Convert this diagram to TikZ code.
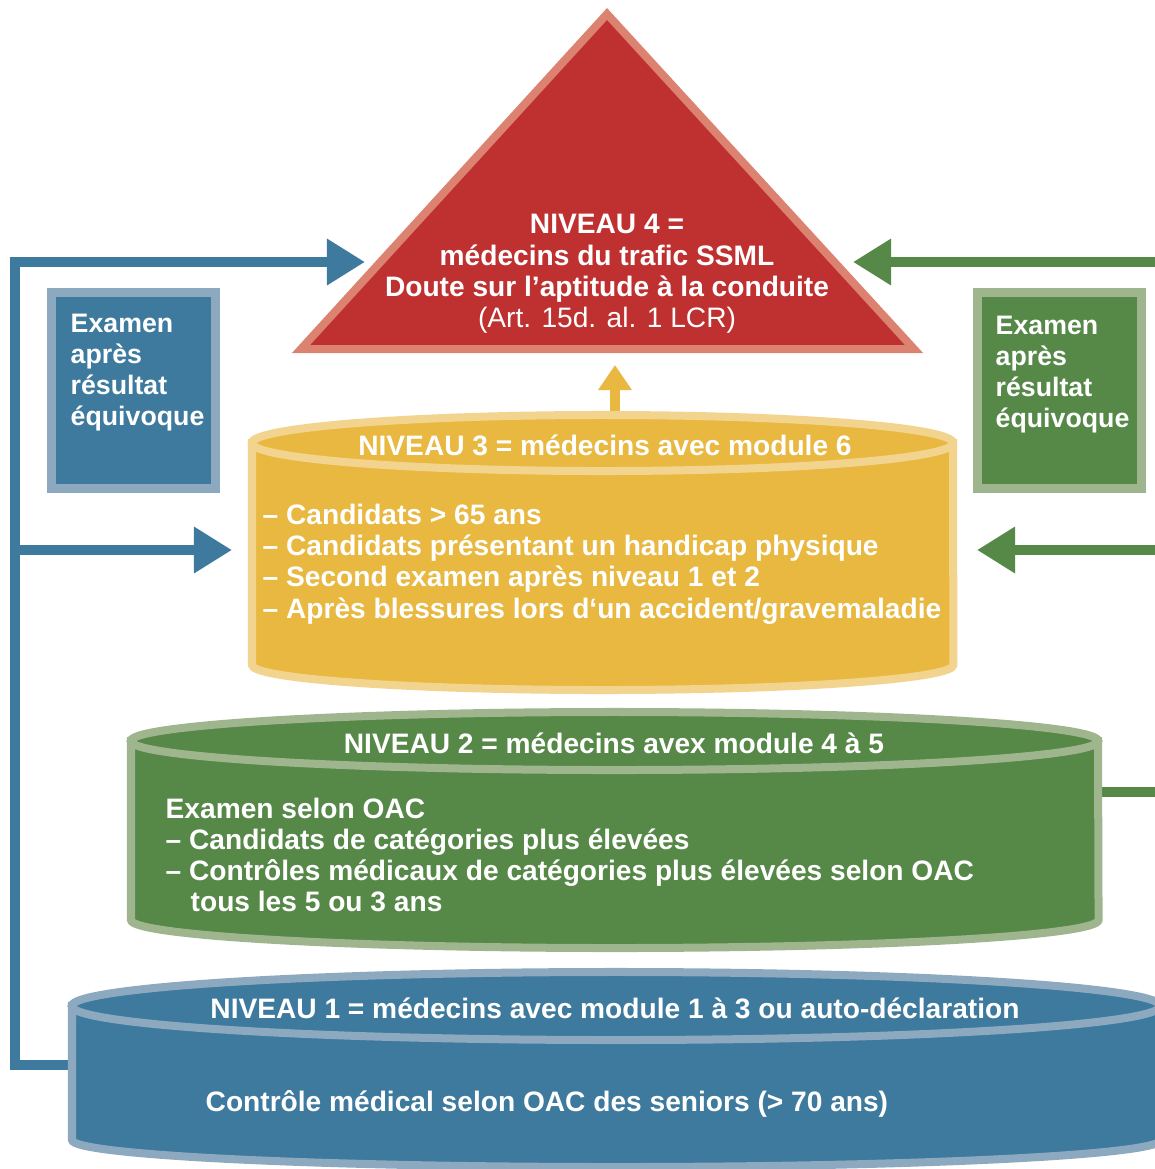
\documentclass[tikz,border=0pt]{standalone}
\usepackage{fontspec}
\setmainfont{Liberation Sans}
\usetikzlibrary{positioning,calc}
\usetikzlibrary{arrows.meta}
\usepackage{xcolor}
\definecolor{bleu}{RGB}{62,122,158}
\definecolor{bleuclair}{RGB}{140,169,192}
\definecolor{vert}{RGB}{86,136,72}
\definecolor{vertclair}{RGB}{159,181,142}
\definecolor{jaune}{RGB}{232,184,64}
\definecolor{jauneclair}{RGB}{243,212,142}
\definecolor{rouge}{RGB}{191,48,48}
\definecolor{saumon}{RGB}{219,130,112}
\tikzset{
    texte/.style={text=white, font=\bfseries\fontsize{8}{8.9}\selectfont, inner sep=0pt},
    examen/.style={texte, font=\bfseries\fontsize{7.6}{8.9}\selectfont, align=left, anchor=north west},
    fleche/.style={line width=0.1cm, -{Triangle[length=0.38cm,width=0.44cm]}},
}

\begin{document}
\begin{tikzpicture}[x=0.01cm, y=-0.01cm, line join=miter]
    \useasboundingbox (0,0) rectangle (1155,1169);
    \clip (0,0) rectangle (1155,1169);
    \fill[white] (0,0) rectangle (1155,1169);

    % fleches bleues
    \coordinate (depart1) at (72,1065);
    \coordinate (coinbas) at (15,1065);
    \coordinate (coinhaut) at (15,262);
    \coordinate (entree4g) at (365,262);
    \coordinate (embranchg) at (15,550);
    \coordinate (entree3g) at (232,550);
    \draw[fleche, color=bleu] (depart1) -- (coinbas) -- (coinhaut) -- (entree4g);
    \draw[fleche, color=bleu] (embranchg) -- (entree3g);

    % fleches vertes
    \coordinate (bord4d) at (1170,262);
    \coordinate (entree4d) at (853,262);
    \coordinate (bord3d) at (1170,550);
    \coordinate (entree3d) at (977,550);
    \coordinate (depart2) at (1098,792);
    \coordinate (bord2d) at (1170,792);
    \draw[fleche, color=vert] (bord4d) -- (entree4d);
    \draw[fleche, color=vert] (bord3d) -- (entree3d);
    \draw[line width=0.1cm, color=vert] (depart2) -- (bord2d);

    % niveau 4
    \coordinate (sommet) at (607,14);
    \coordinate (basg) at (301,349);
    \coordinate (basd) at (914,349);
    \draw[fill=rouge, draw=saumon, line width=0.08cm] (sommet) -- (basd) -- (basg) -- cycle;
    \node[texte, align=center] (n4) at (607,274) {NIVEAU 4 =\\ médecins du trafic SSML\\ Doute sur l’aptitude à la conduite\\ \mdseries (Art. 15d. al. 1 LCR)};

    % fleche jaune
    \coordinate (haut3) at (615,414);
    \coordinate (bas4) at (615,365);
    \draw[line width=0.1cm, color=jaune, -{Triangle[length=0.25cm,width=0.32cm]}] (haut3) -- (bas4);

    % niveau 3
    \def\xg{252} \def\xd{953} \def\yh{443} \def\yb{665}
    \draw[fill=jaune, draw=jauneclair, line width=0.08cm] (\xg,\yh) -- (\xg,\yb) arc (180:360:3.505cm and 0.25cm) -- (\xd,\yh) -- cycle;
    \draw[fill=jaune, draw=jauneclair, line width=0.08cm] ({(\xg+\xd)/2},\yh) ellipse (3.505cm and 0.28cm);
    \node[texte] (t3) at (605,445) {NIVEAU 3 = médecins avec module 6};
    \node[texte, align=left, anchor=west] (l3) at (262,564) {– Candidats > 65 ans\\ – Candidats présentant un handicap physique\\ – Second examen après niveau 1 et 2\\ – Après blessures lors d‘un accident/gravemaladie};

    % niveau 2
    \def\xg{131} \def\xd{1098} \def\yh{741} \def\yb{920}
    \draw[fill=vert, draw=vertclair, line width=0.08cm] (\xg,\yh) -- (\xg,\yb) arc (180:360:4.835cm and 0.28cm) -- (\xd,\yh) -- cycle;
    \draw[fill=vert, draw=vertclair, line width=0.08cm] ({(\xg+\xd)/2},\yh) ellipse (4.835cm and 0.29cm);
    \node[texte] (t2) at (614,743) {NIVEAU 2 = médecins avex module 4 à 5};
    \node[texte, align=left, anchor=west] (l2) at (165,855) {Examen selon OAC\\ – Candidats de catégories plus élevées\\ – Contrôles médicaux de catégories plus élevées selon OAC\\ \hspace*{0.25cm}tous les 5 ou 3 ans};

    % niveau 1
    \def\xg{72} \def\xd{1160} \def\yh{1006} \def\yb{1140}
    \draw[fill=bleu, draw=bleuclair, line width=0.08cm] (\xg,\yh) -- (\xg,\yb) arc (180:360:5.44cm and 0.27cm) -- (\xd,\yh) -- cycle;
    \draw[fill=bleu, draw=bleuclair, line width=0.08cm] ({(\xg+\xd)/2},\yh) ellipse (5.44cm and 0.34cm);
    \node[texte] (t1) at (615,1008) {NIVEAU 1 = médecins avec module 1 à 3 ou auto-déclaration};
    \node[texte, anchor=west] (l1) at (205,1104) {Contrôle médical selon OAC des seniors (> 70 ans)};

    % examens
    \draw[fill=bleu, draw=bleuclair, line width=0.09cm] (51.5,292.5) rectangle (215.5,488.5);
    \node[examen] (exg) at (70,313) {Examen\\ après\\ résultat\\ équivoque};
    \draw[fill=vert, draw=vertclair, line width=0.09cm] (977.5,292.5) rectangle (1141.5,488.5);
    \node[examen] (exd) at (995,315) {Examen\\ après\\ résultat\\ équivoque};

\end{tikzpicture}
\end{document}
